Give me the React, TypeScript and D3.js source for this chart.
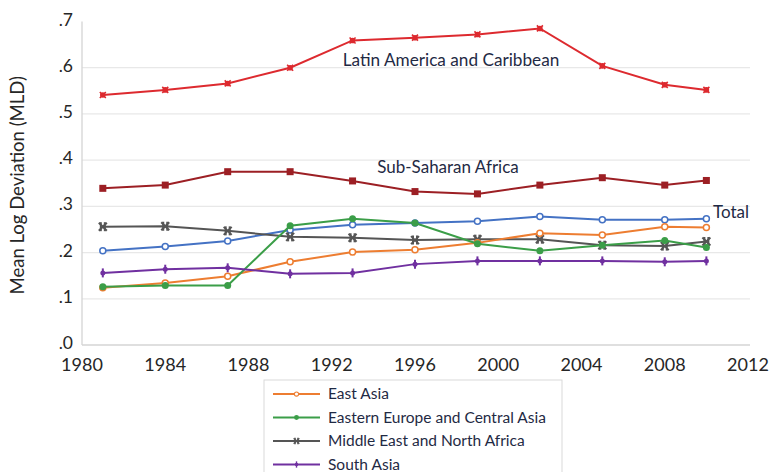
import React from "react";
import * as d3 from "d3";

const years = [1981, 1984, 1987, 1990, 1993, 1996, 1999, 2002, 2005, 2008, 2010];
const latinAmerica = [0.541, 0.552, 0.566, 0.6, 0.659, 0.665, 0.672, 0.685, 0.604, 0.563, 0.552];
const subSaharan = [0.339, 0.346, 0.375, 0.375, 0.355, 0.332, 0.327, 0.346, 0.362, 0.346, 0.356];
const total = [0.204, 0.213, 0.225, 0.249, 0.26, 0.264, 0.268, 0.278, 0.271, 0.271, 0.273];
const mena = [0.256, 0.257, 0.247, 0.234, 0.232, 0.227, 0.229, 0.229, 0.216, 0.214, 0.224];
const eastAsia = [0.124, 0.134, 0.149, 0.18, 0.201, 0.206, 0.221, 0.242, 0.238, 0.256, 0.254];
const eca = [0.126, 0.129, 0.129, 0.258, 0.273, 0.264, 0.219, 0.204, 0.216, 0.226, 0.211];
const southAsia = [0.156, 0.164, 0.167, 0.154, 0.156, 0.175, 0.182, 0.182, 0.182, 0.18, 0.182];

const xTicks = [1980, 1984, 1988, 1992, 1996, 2000, 2004, 2008, 2012];
const yTicks = [0, 0.1, 0.2, 0.3, 0.4, 0.5, 0.6, 0.7];
const yTickLabels = [".0", ".1", ".2", ".3", ".4", ".5", ".6", ".7"];

type Marker = "star" | "square" | "hollow" | "dot" | "cross" | "plus";
const series: { name: string; values: number[]; color: string; marker: Marker }[] = [
  { name: "Latin America and Caribbean", values: latinAmerica, color: "#dd2a2f", marker: "star" },
  { name: "Sub-Saharan Africa", values: subSaharan, color: "#9c1f24", marker: "square" },
  { name: "Total", values: total, color: "#4472c4", marker: "hollow" },
  { name: "Middle East and North Africa", values: mena, color: "#555555", marker: "cross" },
  { name: "East Asia", values: eastAsia, color: "#ed7d31", marker: "hollow" },
  { name: "Eastern Europe and Central Asia", values: eca, color: "#3b9e48", marker: "dot" },
  { name: "South Asia", values: southAsia, color: "#7030a0", marker: "plus" },
];
const legendNames = ["East Asia", "Eastern Europe and Central Asia", "Middle East and North Africa", "South Asia"];

const FONT = "Lato, 'Open Sans', sans-serif";

function MarkerShape({ type, x, y, color }: { type: Marker; x: number; y: number; color: string }) {
  switch (type) {
    case "square":
      return <rect x={x - 3.5} y={y - 3.5} width={7} height={7} fill={color} />;
    case "hollow":
      return <circle cx={x} cy={y} r={3} fill="#fff" stroke={color} strokeWidth={1.5} />;
    case "dot":
      return <circle cx={x} cy={y} r={3.5} fill={color} />;
    case "star":
      return (
        <g stroke={color} strokeWidth={1.6}>
          <circle cx={x} cy={y} r={2.8} fill={color} stroke="none" />
          <line x1={x - 3} y1={y - 3} x2={x + 3} y2={y + 3} />
          <line x1={x - 3} y1={y + 3} x2={x + 3} y2={y - 3} />
        </g>
      );
    case "cross":
      return (
        <g stroke={color} strokeWidth={2}>
          <line x1={x - 4} y1={y - 4} x2={x + 4} y2={y + 4} />
          <line x1={x - 4} y1={y + 4} x2={x + 4} y2={y - 4} />
          <line x1={x - 2} y1={y - 4.5} x2={x - 2} y2={y + 4.5} />
          <line x1={x + 2} y1={y - 4.5} x2={x + 2} y2={y + 4.5} />
        </g>
      );
    case "plus":
      return (
        <g stroke={color} strokeWidth={2}>
          <line x1={x} y1={y - 4.5} x2={x} y2={y + 4.5} />
          <circle cx={x} cy={y} r={2.5} fill={color} stroke="none" />
        </g>
      );
  }
}

export default function App() {
  const W = 773;
  const H = 472;
  const x = d3.scaleLinear().domain([1980, 2012]).range([82, 748]);
  const y = d3.scaleLinear().domain([0, 0.7]).range([345, 21.5]);
  const line = d3
    .line<number>()
    .x((_, i) => x(years[i]))
    .y((d) => y(d));

  return (
    <svg width={W} height={H} style={{ position: "absolute", left: 0, top: 0, background: "#fff" }} fontFamily={FONT}>
      <rect width={W} height={H} fill="#fff" />
      {yTicks.slice(1, 7).map((t) => (
        <line key={t} x1={x(1980)} x2={750} y1={y(t)} y2={y(t)} stroke="#e8e8e8" strokeWidth={1.2} />
      ))}
      <line x1={x(1980)} x2={x(1980)} y1={y(0.7)} y2={y(0)} stroke="#d4d4d4" strokeWidth={1.3} />
      <line x1={x(1980)} x2={750} y1={y(0)} y2={y(0)} stroke="#d4d4d4" strokeWidth={1.3} />
      {yTicks.map((t, i) => (
        <text key={t} x={73} y={y(t) + 4} textAnchor="end" fontSize={17.5} fill="#262626">
          {yTickLabels[i]}
        </text>
      ))}
      {xTicks.map((t) => (
        <text key={t} x={x(t)} y={371} textAnchor="middle" fontSize={18} fill="#262626">
          {t}
        </text>
      ))}
      <text transform={`translate(24,${y(0.35) + 2}) rotate(-90)`} textAnchor="middle" fontSize={18.5} fill="#262626">
        Mean Log Deviation (MLD)
      </text>
      {series.map((s) => (
        <g key={s.name}>
          <path d={line(s.values) || ""} fill="none" stroke={s.color} strokeWidth={2} />
          {s.values.map((v, i) => (
            <MarkerShape key={i} type={s.marker} x={x(years[i])} y={y(v)} color={s.color} />
          ))}
        </g>
      ))}
      <text x={451} y={60} dy="0.35em" textAnchor="middle" fontSize={17.2} fill="#1f2a44">
        Latin America and Caribbean
      </text>
      <text x={448} y={167} dy="0.35em" textAnchor="middle" fontSize={17} fill="#1f2a44">
        Sub-Saharan Africa
      </text>
      <text x={713} y={212} dy="0.35em" fontSize={17} fill="#1f2a44">
        Total
      </text>
      <rect x={264} y={380} width={298} height={100} fill="#fff" stroke="#d9d9d9" strokeWidth={1} />
      {legendNames.map((n, i) => {
        const s = series.find((d) => d.name === n)!;
        const ly = 394 + i * 23.5;
        return (
          <g key={n}>
            <line x1={273} x2={320} y1={ly} y2={ly} stroke={s.color} strokeWidth={2.2} />
            <g transform={`translate(${296.5},${ly}) scale(0.7) translate(${-296.5},${-ly})`}>
              <MarkerShape type={s.marker} x={296.5} y={ly} color={s.color} />
            </g>
            <text x={328} y={ly} dy="0.35em" fontSize={15.5} fill="#1f2a44">
              {n}
            </text>
          </g>
        );
      })}
    </svg>
  );
}
